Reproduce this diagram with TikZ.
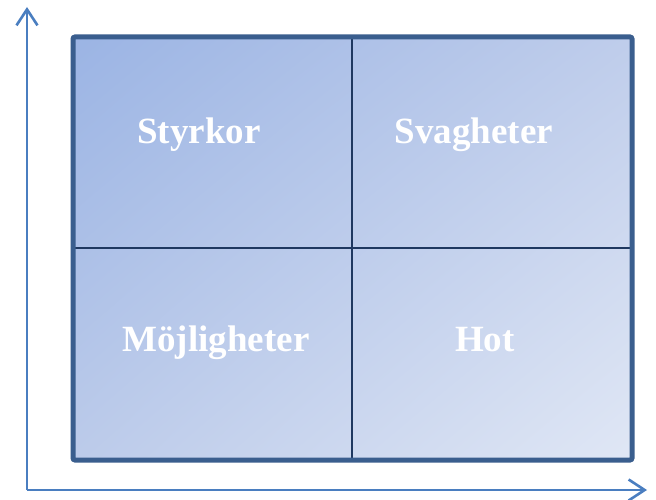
\documentclass[tikz,border=0pt]{standalone}
\usepackage{fontspec}
\setmainfont{Liberation Serif}
\usepackage{tikz}
\usetikzlibrary{shadings,arrows.meta}

\definecolor{axisblue}{RGB}{74,126,192}
\definecolor{frameblue}{RGB}{58,94,142}
\definecolor{lineblue}{RGB}{31,56,96}
\definecolor{fieldUL}{RGB}{155,180,228}
\definecolor{fieldUR}{RGB}{191,205,235}
\definecolor{fieldLL}{RGB}{188,203,234}
\definecolor{fieldLR}{RGB}{224,231,245}

\tikzset{
  label/.style={text=white,font=\fontsize{37}{44}\selectfont\bfseries,inner sep=0pt,anchor=base},
  axis/.style={-{Straight Barb[length=16pt,width=21pt]},axisblue,line width=2.6pt},
}

\begin{document}
\begin{tikzpicture}[x=1pt,y=-1pt]
          \useasboundingbox (0,0) rectangle (656,500);
          % axes
          \coordinate (origin) at (27,490);
          \coordinate (ytip) at (27,7);
          \coordinate (xtip) at (647,490);
          \draw[axis] (origin) -- (ytip);
          \draw[axis] (origin) -- (xtip);

          % the field
          \shade[upper left=fieldUL,upper right=fieldUR,
                 lower left=fieldLL,lower right=fieldLR]
            (73,37) rectangle (632,460);
          \draw[lineblue,line width=1.3pt] (352,37) -- (352,460);
          \draw[lineblue,line width=1.3pt] (73,248) -- (632,248);
          \draw[frameblue,line width=5pt,rounded corners=2pt] (73,37) rectangle (632,460);

          \node[label] (s) at (199,143) {Styrkor};
          \node[label] (w) at (474,143) {Svagheter};
          \node[label] (o) at (216,351) {Möjligheter};
          \node[label] (t) at (485,351) {Hot};
        \end{tikzpicture}
\end{document}
